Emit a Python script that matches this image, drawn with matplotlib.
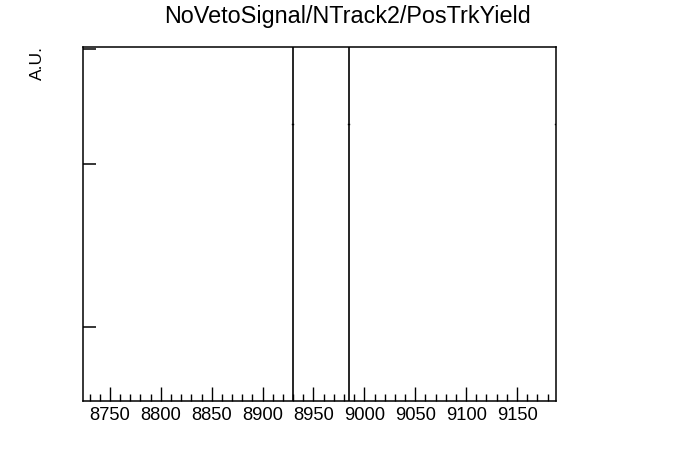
import matplotlib
matplotlib.use("Agg")
import matplotlib.pyplot as plt
from matplotlib.ticker import MultipleLocator, NullFormatter, FixedLocator

plt.rcParams['font.family'] = ['Liberation Sans', 'DejaVu Sans']

# histogram view (x range)
x_range = [8723.5, 9188.3]
# bin edges where the histogram jumps off scale
edges = [8930.0, 8985.0, 9188.3]
# level of the small step stubs, relative to the frame height
step_level = 0.782
# y-axis tick positions (no labels shown)
y_ticks = [0.209, 0.669, 0.994]

fig = plt.figure(figsize=(6.96, 4.72), dpi=100)
ax = fig.add_axes([83 / 696, 71 / 472, 473 / 696, 354 / 472])

ax.set_xlim(*x_range)
ax.set_ylim(0, 1)

# vertical edges of the off-scale bin
for e in edges[:2]:
    ax.plot([e, e], [0, 1], color='black', lw=1.2, clip_on=True)
# tiny step stubs at the bin edges
for e in edges:
    ax.plot([e - 1.0, e], [step_level, step_level], color='black', lw=1.0)

for sp in ax.spines.values():
    sp.set_linewidth(1.1)

ax.xaxis.set_major_locator(MultipleLocator(50))
ax.xaxis.set_minor_locator(MultipleLocator(10))
ax.tick_params(axis='x', which='major', direction='in', length=10, width=1,
               labelsize=13.2, pad=4.5, top=False)
ax.tick_params(axis='x', which='minor', direction='in', length=5, width=1, top=False)

ax.yaxis.set_major_locator(FixedLocator(y_ticks))
ax.yaxis.set_major_formatter(NullFormatter())
ax.tick_params(axis='y', which='major', direction='in', length=9, width=1.1, right=False)

fig.text(37 / 696, 1 - 46 / 472, "A.U.", rotation=90, ha='center', va='top', fontsize=12.5)
fig.text(348 / 696, 1 - 17 / 472, "NoVetoSignal/NTrack2/PosTrkYield",
         ha='center', va='center', fontsize=16.8)

fig.savefig("out.png", dpi=100)
